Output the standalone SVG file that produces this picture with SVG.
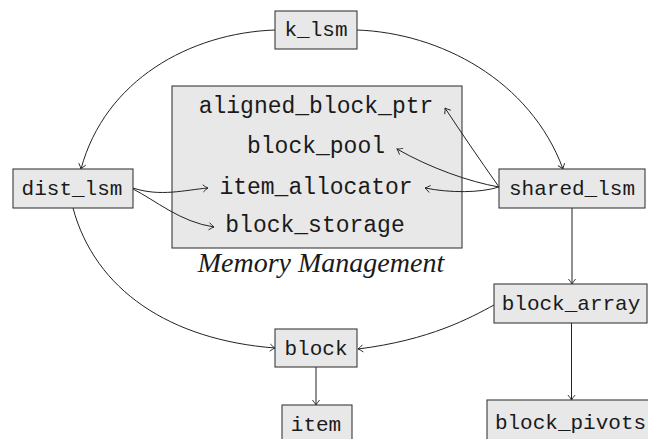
<svg xmlns="http://www.w3.org/2000/svg" width="648" height="439" viewBox="0 0 648 439">
<defs>
<marker id="arr" markerUnits="userSpaceOnUse" markerWidth="12" markerHeight="12" viewBox="-8 -6 10 12" refX="0" refY="0" orient="auto">
<path d="M-5,-3.6 Q-2,-1 0,0 Q-2,1 -5,3.6" fill="none" stroke="#222" stroke-width="0.9"/>
</marker>
<style>
.box{fill:#e8e8e8;stroke:#3a3a3a;stroke-width:1.1}
.lbl{font-family:"Liberation Mono","DejaVu Sans Mono",monospace;font-size:21px;fill:#1a1a1a;text-anchor:middle}
.mlbl{font-family:"Liberation Mono","DejaVu Sans Mono",monospace;font-size:23px;fill:#1a1a1a;text-anchor:middle}
.cap{font-family:"Liberation Serif","DejaVu Serif",serif;font-style:italic;font-size:28px;fill:#1a1a1a;text-anchor:middle}
.edge{fill:none;stroke:#222;stroke-width:1;marker-end:url(#arr)}
</style>
</defs>
<rect width="648" height="439" fill="#fff"/>
<g id="memory_management">
<rect class="box" x="172" y="86" width="290" height="162"/>
<text class="mlbl" x="316" y="113">aligned_block_ptr</text>
<text class="mlbl" x="316" y="153">block_pool</text>
<text class="mlbl" x="316" y="194">item_allocator</text>
<text class="mlbl" x="315" y="232">block_storage</text>
<text class="cap" x="321" y="272">Memory Management</text>
</g>
<g id="connectors">
<path class="edge" d="M275,30 C190,33 105,80 81,169"/>
<path class="edge" d="M357,30 C440,33 530,80 563,169"/>
<path class="edge" d="M133,188 C160,197 185,190 208,188"/>
<path class="edge" d="M133,189 C155,200 180,222 214,227"/>
<path class="edge" d="M499,187 Q468,143 445,108"/>
<path class="edge" d="M499,187 C470,182 430,168 397,149"/>
<path class="edge" d="M499,187 C480,193 450,193 425,188"/>
<path class="edge" d="M572,208 L572,284"/>
<path class="edge" d="M494,305 C470,318 430,340 358,349"/>
<path class="edge" d="M73,208 C95,290 170,340 275,348"/>
<path class="edge" d="M316,367 L316,405"/>
<path class="edge" d="M571.5,323 L571.5,400"/>
</g>
<g id="k_lsm">
<rect class="box" x="275" y="11" width="82" height="38"/>
<text class="lbl" x="316" y="36">k_lsm</text>
</g>
<g id="dist_lsm">
<rect class="box" x="13" y="169" width="120" height="39"/>
<text class="lbl" x="72" y="195">dist_lsm</text>
</g>
<g id="shared_lsm">
<rect class="box" x="499" y="169" width="146" height="39"/>
<text class="lbl" x="572" y="195">shared_lsm</text>
</g>
<g id="block_array">
<rect class="box" x="494" y="284" width="153" height="39"/>
<text class="lbl" x="571" y="310">block_array</text>
</g>
<g id="block">
<rect class="box" x="275" y="329" width="82" height="38"/>
<text class="lbl" x="316" y="355">block</text>
</g>
<g id="item">
<rect class="box" x="282" y="405" width="70" height="40"/>
<text class="lbl" x="316" y="431">item</text>
</g>
<g id="block_pivots">
<rect class="box" x="487" y="400" width="166" height="45"/>
<text class="lbl" x="570.5" y="429">block_pivots</text>
</g>
</svg>
